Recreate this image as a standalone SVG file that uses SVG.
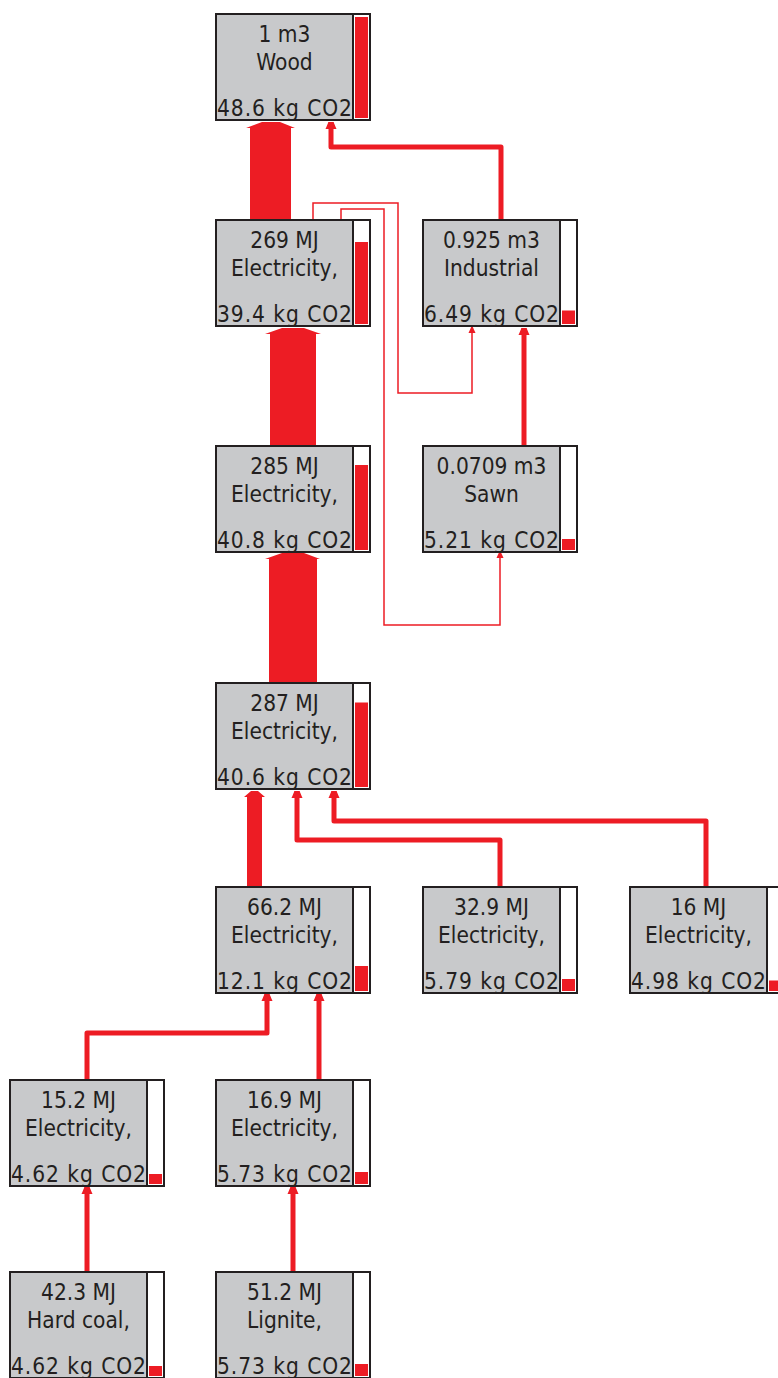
<svg xmlns="http://www.w3.org/2000/svg" width="778" height="1378" viewBox="0 0 778 1378">
<style>
.box{fill:#C8C9CB;stroke:#231F20;stroke-width:2}
.bar{fill:#FFFFFF;stroke:#231F20;stroke-width:2}
.lvl{fill:#ED1C24}
.t{font-family:"DejaVu Sans Condensed","DejaVu Sans",sans-serif;font-size:22.5px;fill:#231F20;text-anchor:middle}
.b{font-family:"DejaVu Sans Condensed","DejaVu Sans",sans-serif;font-size:22.5px;fill:#231F20}
.big{fill:#ED1C24}
.w{fill:none;stroke:#ED1C24;stroke-width:5;stroke-linejoin:round}
.n{fill:none;stroke:#ED1C24;stroke-width:1.5}
</style>
<defs>
<marker id="ah" markerUnits="userSpaceOnUse" viewBox="-8 -6 9 12" refX="0" refY="0" markerWidth="9" markerHeight="12" orient="auto">
<path d="M-7,-5.5 L0,-2.5 L0,2.5 L-7,5.5 Z" fill="#ED1C24"/>
</marker>
<marker id="as" markerUnits="userSpaceOnUse" viewBox="-7 -4 8 8" refX="0" refY="0" markerWidth="8" markerHeight="8" orient="auto">
<path d="M-6,-3.5 L0,-0.8 L0,0.8 L-6,3.5 Z" fill="#ED1C24"/>
</marker>
</defs>

<g id="connectors">
<polygon class="big" points="250,220 250,128 246,128 262,122 280,122 295,128 291,128 291,220"/>
<polygon class="big" points="270,446 270,334 265,334 282,328 304,328 321,334 316,334 316,446"/>
<polygon class="big" points="269,683 269,559 265,559 282,553 304,553 320,559 317,559 317,683"/>
<polygon class="big" points="247,887 247,797 244,797 251,791 258,791 265,797 262,797 262,887"/>
<path class="w" d="M501,220 V147 H331 V122" marker-end="url(#ah)"/>
<path class="n" d="M313,220 V203 H398 V393 H472 V327" marker-end="url(#as)"/>
<path class="n" d="M341,220 V209 H384 V625 H500 V552" marker-end="url(#as)"/>
<path class="w" d="M524,446 V328" marker-end="url(#ah)"/>
<path class="w" d="M500,887 V840 H297 V791" marker-end="url(#ah)"/>
<path class="w" d="M706,887 V821 H334 V791" marker-end="url(#ah)"/>
<path class="w" d="M87,1080 V1033 H267 V994" marker-end="url(#ah)"/>
<path class="w" d="M319,1080 V994" marker-end="url(#ah)"/>
<path class="w" d="M87,1272 V1187" marker-end="url(#ah)"/>
<path class="w" d="M293,1272 V1187" marker-end="url(#ah)"/>
</g>

<g id="n-wood">
<rect class="box" x="216" y="14" width="137" height="106"/>
<rect class="bar" x="353" y="14" width="17" height="106"/>
<rect class="lvl" x="355" y="17" width="13" height="101"/>
<text class="t" x="284.5" y="42">1 m3</text>
<text class="t" x="284.5" y="70">Wood</text>
<text class="b" x="217" y="116" textLength="135" lengthAdjust="spacing">48.6 kg CO2</text>
</g>

<g id="n-269">
<rect class="box" x="216" y="220" width="137" height="106"/>
<rect class="bar" x="353" y="220" width="17" height="106"/>
<rect class="lvl" x="355" y="242" width="13" height="82"/>
<text class="t" x="284.5" y="248">269 MJ</text>
<text class="t" x="284.5" y="276">Electricity,</text>
<text class="b" x="217" y="322" textLength="135" lengthAdjust="spacing">39.4 kg CO2</text>
</g>

<g id="n-industrial">
<rect class="box" x="423" y="220" width="137" height="106"/>
<rect class="bar" x="560" y="220" width="17" height="106"/>
<rect class="lvl" x="562" y="310.5" width="13" height="13.5"/>
<text class="t" x="491.5" y="248">0.925 m3</text>
<text class="t" x="491.5" y="276">Industrial</text>
<text class="b" x="424" y="322" textLength="135" lengthAdjust="spacing">6.49 kg CO2</text>
</g>

<g id="n-285">
<rect class="box" x="216" y="446" width="137" height="106"/>
<rect class="bar" x="353" y="446" width="17" height="106"/>
<rect class="lvl" x="355" y="465" width="13" height="85"/>
<text class="t" x="284.5" y="474">285 MJ</text>
<text class="t" x="284.5" y="502">Electricity,</text>
<text class="b" x="217" y="548" textLength="135" lengthAdjust="spacing">40.8 kg CO2</text>
</g>

<g id="n-sawn">
<rect class="box" x="423" y="446" width="137" height="106"/>
<rect class="bar" x="560" y="446" width="17" height="106"/>
<rect class="lvl" x="562" y="539" width="13" height="11"/>
<text class="t" x="491.5" y="474">0.0709 m3</text>
<text class="t" x="491.5" y="502">Sawn</text>
<text class="b" x="424" y="548" textLength="135" lengthAdjust="spacing">5.21 kg CO2</text>
</g>

<g id="n-287">
<rect class="box" x="216" y="683" width="137" height="106"/>
<rect class="bar" x="353" y="683" width="17" height="106"/>
<rect class="lvl" x="355" y="702.5" width="13" height="84.5"/>
<text class="t" x="284.5" y="711">287 MJ</text>
<text class="t" x="284.5" y="739">Electricity,</text>
<text class="b" x="217" y="785" textLength="135" lengthAdjust="spacing">40.6 kg CO2</text>
</g>

<g id="n-66">
<rect class="box" x="216" y="887" width="137" height="106"/>
<rect class="bar" x="353" y="887" width="17" height="106"/>
<rect class="lvl" x="355" y="966" width="13" height="25"/>
<text class="t" x="284.5" y="915">66.2 MJ</text>
<text class="t" x="284.5" y="943">Electricity,</text>
<text class="b" x="217" y="989" textLength="135" lengthAdjust="spacing">12.1 kg CO2</text>
</g>

<g id="n-32">
<rect class="box" x="423" y="887" width="137" height="106"/>
<rect class="bar" x="560" y="887" width="17" height="106"/>
<rect class="lvl" x="562" y="979" width="13" height="12"/>
<text class="t" x="491.5" y="915">32.9 MJ</text>
<text class="t" x="491.5" y="943">Electricity,</text>
<text class="b" x="424" y="989" textLength="135" lengthAdjust="spacing">5.79 kg CO2</text>
</g>

<g id="n-16">
<rect class="box" x="630" y="887" width="137" height="106"/>
<rect class="bar" x="767" y="887" width="17" height="106"/>
<rect class="lvl" x="769" y="980.5" width="13" height="10.5"/>
<text class="t" x="698.5" y="915">16 MJ</text>
<text class="t" x="698.5" y="943">Electricity,</text>
<text class="b" x="631" y="989" textLength="135" lengthAdjust="spacing">4.98 kg CO2</text>
</g>

<g id="n-15">
<rect class="box" x="10" y="1080" width="137" height="106"/>
<rect class="bar" x="147" y="1080" width="17" height="106"/>
<rect class="lvl" x="149" y="1174" width="13" height="10"/>
<text class="t" x="78.5" y="1108">15.2 MJ</text>
<text class="t" x="78.5" y="1136">Electricity,</text>
<text class="b" x="11" y="1182" textLength="135" lengthAdjust="spacing">4.62 kg CO2</text>
</g>

<g id="n-16-9">
<rect class="box" x="216" y="1080" width="137" height="106"/>
<rect class="bar" x="353" y="1080" width="17" height="106"/>
<rect class="lvl" x="355" y="1172" width="13" height="12"/>
<text class="t" x="284.5" y="1108">16.9 MJ</text>
<text class="t" x="284.5" y="1136">Electricity,</text>
<text class="b" x="217" y="1182" textLength="135" lengthAdjust="spacing">5.73 kg CO2</text>
</g>

<g id="n-hardcoal">
<rect class="box" x="10" y="1272" width="137" height="106"/>
<rect class="bar" x="147" y="1272" width="17" height="106"/>
<rect class="lvl" x="149" y="1366" width="13" height="10"/>
<text class="t" x="78.5" y="1300">42.3 MJ</text>
<text class="t" x="78.5" y="1328">Hard coal,</text>
<text class="b" x="11" y="1374" textLength="135" lengthAdjust="spacing">4.62 kg CO2</text>
</g>

<g id="n-lignite">
<rect class="box" x="216" y="1272" width="137" height="106"/>
<rect class="bar" x="353" y="1272" width="17" height="106"/>
<rect class="lvl" x="355" y="1364" width="13" height="12"/>
<text class="t" x="284.5" y="1300">51.2 MJ</text>
<text class="t" x="284.5" y="1328">Lignite,</text>
<text class="b" x="217" y="1374" textLength="135" lengthAdjust="spacing">5.73 kg CO2</text>
</g>
</svg>
